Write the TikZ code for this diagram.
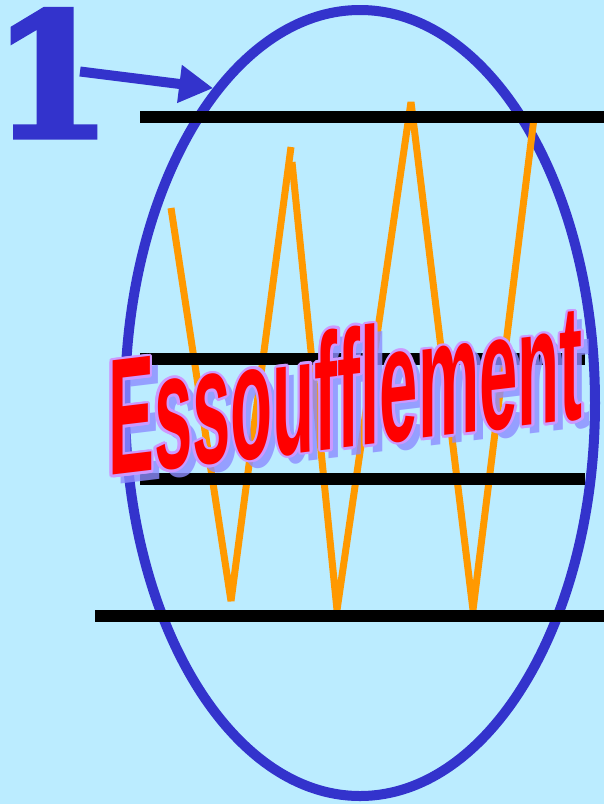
\documentclass[tikz,border=0pt]{standalone}
\usepackage{fontspec}
\usetikzlibrary{arrows.meta, positioning, shapes.geometric}
\newfontfamily\bannerfont[FakeStretch=0.415]{Liberation Sans}
\newfontfamily\numberfont[FakeBold=3]{DejaVu Serif}
\definecolor{skyback}{RGB}{187, 236, 255}
\definecolor{ringblue}{RGB}{51, 51, 204}
\definecolor{waveorange}{RGB}{255, 153, 0}
\definecolor{wordred}{RGB}{255, 0, 0}
\definecolor{wordrim}{RGB}{204, 153, 255}
\definecolor{wordshade}{RGB}{140, 140, 255}

\begin{document}
\begin{tikzpicture}[
    x=1pt, y=-1pt,
    ring/.style={ellipse, draw=ringblue, line width=10pt, minimum width=470pt, minimum height=786pt, inner sep=0pt},
    rung/.style={line width=12pt, black},
    wave/.style={line width=7pt, waveorange, line join=bevel},
    pointer/.style={-{Triangle[length=34pt, width=36pt]}, line width=10pt, ringblue},
    banner/.style={anchor=base west, inner sep=0pt, yslant=0.12, font=\bannerfont\bfseries\fontsize{166}{166}\selectfont}
  ]
    \useasboundingbox[fill=skyback] (0,0) rectangle (604,804);

    \node[ring] (loop) at (360,403) {};
    \node[anchor=base west, inner sep=0pt, text=ringblue, font=\numberfont\bfseries\fontsize{172}{172}\selectfont] (one) at (-8,137) {1};
    \coordinate (tail) at (80,71.5);
    \draw[pointer] (tail) -- (loop.115);

    % zigzag
    \draw[wave] (171,208) -- (231,601) -- (291,147);
    \draw[wave] (292,162) -- (337,610) -- (411,102) -- (473,610) -- (534,118);

    % black rungs
    \draw[rung] (140,117) -- (604,117);
    \draw[rung] (140,359) -- (585,359);
    \draw[rung] (140,479) -- (585,479);
    \draw[rung] (95,616) -- (604,616);

    % word with shadow and rim
    \coordinate (wordbase) at (108,476);
    \node[banner, text=wordshade, text opacity=0.8, shift={(8,9)}] (wordshadow) at (wordbase) {Essoufflement};
    \foreach \a in {0,30,...,330}
      \node[banner, text=wordrim, shift={(\a:2.6)}] at (wordbase) {Essoufflement};
    \node[banner, text=wordred] (word) at (wordbase) {Essoufflement};
  \end{tikzpicture}
\end{document}
